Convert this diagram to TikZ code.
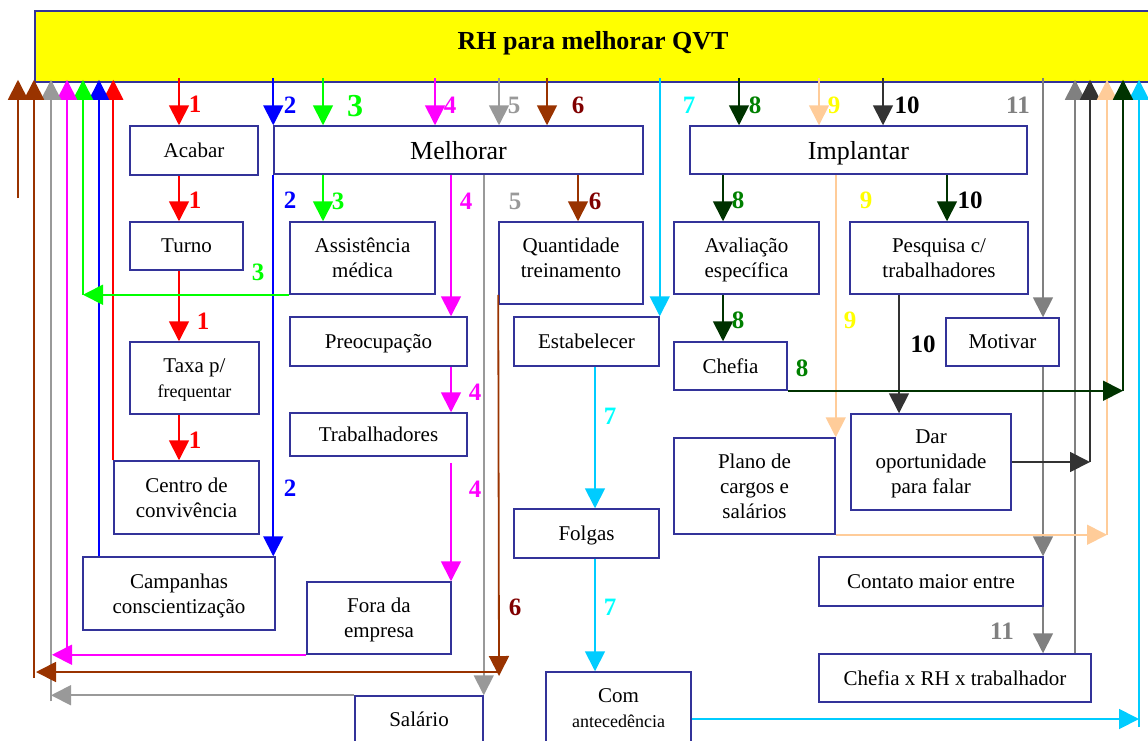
\documentclass[tikz,border=0pt]{standalone}
\usepackage{fontspec}
\setmainfont{Liberation Serif}
\usetikzlibrary{arrows.meta}

\definecolor{boxline}{HTML}{333399}
\definecolor{titlefill}{HTML}{FFFF00}
\definecolor{red1}{HTML}{FF0000}
\definecolor{blue2}{HTML}{0000FF}
\definecolor{green3}{HTML}{00FF00}
\definecolor{mag4}{HTML}{FF00FF}
\definecolor{gray5}{HTML}{999999}
\definecolor{brown6}{HTML}{993300}
\definecolor{lab6}{HTML}{800000}
\definecolor{sky7}{HTML}{00CCFF}
\definecolor{lab7}{HTML}{00FFFF}
\definecolor{dgreen8}{HTML}{003300}
\definecolor{lab8}{HTML}{008000}
\definecolor{peach9}{HTML}{FFCC99}
\definecolor{lab9}{HTML}{FFFF00}
\definecolor{dgray10}{HTML}{333333}
\definecolor{gray11}{HTML}{808080}

\newcommand\boxfont{\fontsize{21}{25}\selectfont}
\newcommand\bigboxfont{\fontsize{26}{30}\selectfont}
\newcommand\smallboxfont{\fontsize{18}{22}\selectfont}
\newcommand\numfont{\fontsize{25}{28}\selectfont\bfseries}

\tikzset{
  box/.style={draw=boxline,line width=1.5pt,fill=white,align=center,inner sep=0pt,text depth=0pt,font=\boxfont},
  arr/.style={line width=1.8pt,-{Triangle[length=20pt,width=20pt]}},
  fromtitle/.style={shorten <=-5pt},
  totitle/.style={shorten >=-3pt},
  num/.style={font=\numfont,inner sep=0pt}
}

\begin{document}
\begin{tikzpicture}[x=1pt,y=-1pt]
\useasboundingbox (0,0) rectangle (1148,740);
\clip (0,0) rectangle (1148,740);

% top box
\node[box,fill=titlefill,minimum width=1117pt,minimum height=71pt] (title) at (593.5,46.5) {};
\node[font=\fontsize{26}{30}\selectfont\bfseries,anchor=base] (titletext) at (593,49) {RH para melhorar QVT};

% left column
\node[box,minimum width=128pt,minimum height=49pt] (acabar) at (194,150.5) {Acabar};
\node[box,minimum width=113pt,minimum height=48pt] (turno) at (186.5,246) {Turno};
\node[box,minimum width=129pt,minimum height=72pt] (taxa) at (194.5,378) {Taxa p/\\\smallboxfont frequentar};
\node[box,minimum width=145pt,minimum height=73pt] (centro) at (186.5,497.5) {Centro de\\convivência};
\node[box,minimum width=192pt,minimum height=73pt] (campanhas) at (179,593.5) {Campanhas\\conscientização};

% melhorar branch
\node[box,font=\bigboxfont,minimum width=369pt,minimum height=48pt] (melhorar) at (458.5,150) {Melhorar};
\node[box,minimum width=145pt,minimum height=72pt] (assist) at (362.5,258) {Assistência\\médica};
\node[box,minimum width=144pt,minimum height=82pt,
  label={[name=quanttext,font=\boxfont,align=center,yshift=5.5pt]center:Quantidade\\treinamento}] (quant) at (571,263) {};
\node[box,minimum width=177pt,minimum height=49pt] (preoc) at (378.5,341.5) {Preocupação};
\node[box,minimum width=177pt,minimum height=43pt] (trab) at (378.5,434.5) {Trabalhadores};
\node[box,minimum width=144pt,minimum height=72pt] (fora) at (379,618) {Fora da\\empresa};
\node[box,minimum width=128pt,minimum height=46pt] (salario) at (419,719) {Salário};
\node[box,minimum width=145pt,minimum height=49pt] (estab) at (586.5,341.5) {Estabelecer};
\node[box,minimum width=145pt,minimum height=49pt] (folgas) at (586.5,533.5) {Folgas};
\node[box,minimum width=145pt,minimum height=73pt] (com) at (618.5,708.5) {Com\\\smallboxfont antecedência};

% implantar branch
\node[box,font=\bigboxfont,minimum width=337pt,minimum height=48pt] (implantar) at (858.5,150) {Implantar};
\node[box,minimum width=145pt,minimum height=72pt] (aval) at (746.5,258) {Avaliação\\específica};
\node[box,minimum width=178pt,minimum height=72pt] (pesq) at (939,258) {Pesquisa c/\\trabalhadores};
\node[box,minimum width=113pt,minimum height=48pt] (chefia) at (730.5,366) {Chefia};
\node[box,minimum width=113pt,minimum height=48pt] (motivar) at (1002.5,342) {Motivar};
\node[box,minimum width=161pt,minimum height=96pt] (plano) at (754.5,486) {Plano de\\cargos e\\salários};
\node[box,minimum width=160pt,minimum height=96pt] (dar) at (931,462) {Dar\\oportunidade\\para falar};
\node[box,minimum width=224pt,minimum height=49pt] (contato) at (931,581.5) {Contato maior entre};
\node[box,minimum width=272pt,minimum height=48pt] (chefiarh) at (955,678) {Chefia x RH x trabalhador};

% columns the arrows run in
\foreach \n/\x in {k1/179,b2/99,k3/323,b3/83,k4a/435,k4b/451,t4/52,b4/67,k5/499,b5/51,
  k6a/547,k6b/578,t6/36,b6/34,k7/595,k8a/739,k8b/723,b8/1123,k9/819,b9/1107,
  k10a/883,k10b/947,k10c/899,b10/1090,k11/1043,b11/1075}
  \coordinate (\n) at (\x,0);
\coordinate (c6) at (499,672);
\coordinate (s6) at (18,198);
\coordinate (e7) at (1139,719);

% 1
\draw[arr,fromtitle,red1] (title.south -| k1) -- (acabar.north -| k1);
\draw[arr,red1] (acabar.south -| k1) -- (turno.north -| k1);
\draw[arr,red1] (turno.south -| k1) -- (taxa.north -| k1);
\draw[arr,red1] (taxa.south -| k1) -- (centro.north -| k1);
\draw[arr,totitle,red1] (centro.north west) -- (title.south -| centro.north west);
% 2
\draw[arr,fromtitle,blue2] (title.south -| melhorar.north west) -- (melhorar.north west);
\draw[arr,blue2] (melhorar.south west) -- (campanhas.north east -| melhorar.south west);
\draw[arr,totitle,blue2] (campanhas.north -| b2) -- (title.south -| b2);
% 3
\draw[arr,fromtitle,green3] (title.south -| k3) -- (melhorar.north -| k3);
\draw[arr,green3] (melhorar.south -| k3) -- (assist.north -| k3);
\draw[arr,green3] (assist.south west) -- (assist.south west -| b3);
\draw[arr,totitle,green3] (assist.south west -| b3) -- (title.south -| b3);
% 4
\draw[arr,fromtitle,mag4] (title.south -| k4a) -- (melhorar.north -| k4a);
\draw[arr,mag4] (melhorar.south -| k4b) -- (preoc.north -| k4b);
\draw[arr,mag4] (preoc.south -| k4b) -- (trab.north -| k4b);
\draw[arr,mag4,shorten <=6pt] (trab.south -| k4b) -- (fora.north -| k4b);
\draw[arr,mag4] (fora.south west) -- (fora.south west -| t4);
\draw[arr,totitle,mag4] (fora.south west -| b4) -- (title.south -| b4);
% 5
\draw[arr,fromtitle,gray5] (title.south -| k5) -- (melhorar.north -| k5);
\draw[arr,gray5] (melhorar.south -| salario.north east) -- (salario.north east);
\draw[arr,gray5] (salario.north west) -- (salario.north west -| b5);
\draw[arr,totitle,gray5,shorten <=-6pt] (salario.north west -| b5) -- (title.south -| b5);
% 6
\draw[arr,fromtitle,brown6] (title.south -| k6a) -- (melhorar.north -| k6a);
\draw[arr,brown6] (melhorar.south -| k6b) -- (quant.north -| k6b);
\draw[arr,brown6,shorten <=-10pt,shorten >=-4pt] (quant.south west) -- (c6);
\draw[arr,brown6] (c6) -- (c6 -| t6);
\draw[arr,totitle,brown6,shorten <=-6pt] (c6 -| b6) -- (title.south -| b6);
\draw[arr,totitle,brown6] (s6) -- (title.south -| s6);
% 7
\draw[arr,fromtitle,sky7] (title.south -| estab.north east) -- (estab.north east);
\draw[arr,sky7] (estab.south -| k7) -- (folgas.north -| k7);
\draw[arr,sky7] (folgas.south -| k7) -- (com.north -| k7);
\draw[arr,sky7] (e7 -| com.east) -- (e7);
\draw[arr,totitle,sky7,shorten <=-8pt] (e7) -- (title.south -| e7);
% 11
\draw[arr,fromtitle,gray11] (title.south -| k11) -- (motivar.north -| k11);
\draw[arr,gray11] (motivar.south -| k11) -- (contato.north -| k11);
\draw[arr,gray11] (contato.south -| k11) -- (chefiarh.north -| k11);
\draw[arr,totitle,gray11] (chefiarh.north -| b11) -- (title.south -| b11);
% 10
\draw[arr,fromtitle,dgray10] (title.south -| k10a) -- (implantar.north -| k10a);
\draw[arr,dgreen8] (implantar.south -| k10b) -- (pesq.north -| k10b);
\draw[arr,dgray10] (pesq.south -| k10c) -- (dar.north -| k10c);
\draw[arr,dgray10] (dar.east) -- (dar.east -| b10);
\draw[arr,totitle,dgray10] (dar.east -| b10) -- (title.south -| b10);
% 9
\draw[arr,fromtitle,peach9] (title.south -| k9) -- (implantar.north -| k9);
\draw[arr,peach9] (implantar.south -| plano.north east) -- (plano.north east);
\draw[arr,peach9] (plano.south east) -- (plano.south east -| b9);
\draw[arr,totitle,peach9] (plano.south east -| b9) -- (title.south -| b9);
% 8 last, it runs over the others
\draw[arr,fromtitle,dgreen8] (title.south -| k8a) -- (implantar.north -| k8a);
\draw[arr,dgreen8] (implantar.south -| k8b) -- (aval.north -| k8b);
\draw[arr,dgreen8] (aval.south -| k8b) -- (chefia.north -| k8b);
\draw[arr,dgreen8] (chefia.south east) -- (chefia.south east -| b8);
\draw[arr,totitle,dgreen8] (chefia.south east -| b8) -- (title.south -| b8);

% numbers beside the arrows
\foreach \x/\y/\col/\txt [count=\n] in {195/104/red1/1,195/200/red1/1,203/321/red1/1,195/440/red1/1,
  290/105/blue2/2,290/200/blue2/2,290/488/blue2/2,338/201/green3/3,258/272/green3/3,
  450/105/mag4/4,466/201/mag4/4,475/392/mag4/4,475/489/mag4/4,
  514/105/gray5/5,515/201/gray5/5,578/105/lab6/6,595/201/lab6/6,515/607/lab6/6,
  689/105/lab7/7,610/416/lab7/7,610/607/lab7/7,
  755/105/lab8/8,738/200/lab8/8,738/320/lab8/8,802/368/lab8/8,
  834/105/lab9/9,866/200/lab9/9,850/320/lab9/9,
  907/105/black/10,970/200/black/10,923/344/black/10,
  1018/105/gray11/11,1002/631/gray11/11}
  \node[num,text=\col] (num\n) at (\x,\y) {\txt};
\node[num,text=green3,font=\fontsize{32}{36}\selectfont\bfseries] (numbig) at (355,106) {3};
\end{tikzpicture}
\end{document}
